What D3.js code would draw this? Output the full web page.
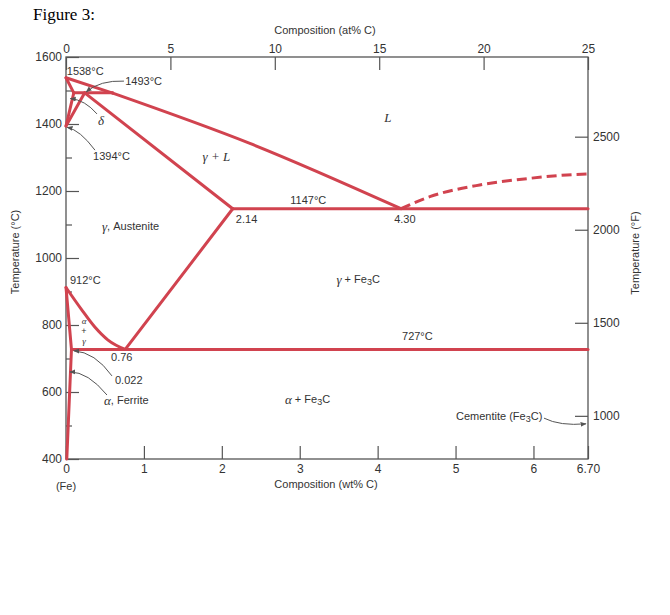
<!DOCTYPE html>
<html><head><meta charset="utf-8">
<script src="https://cdn.jsdelivr.net/npm/d3@7"></script>
<style>body{margin:0;background:#fff}</style>
</head><body><svg id="c" width="670" height="615"></svg>
<script>
// ---------- data ----------
const tempTicksC = [400, 600, 800, 1000, 1200, 1400, 1600];
const tempMinorC = [500, 700, 900, 1100, 1300, 1500];
const wtTicks = [0, 1, 2, 3, 4, 5, 6, 6.70];
const atTicks = [0, 5, 10, 15, 20, 25];
const tempTicksF = [1000, 1500, 2000, 2500];

// phase boundaries as [wt% C, °C]
const liquidusTop = [[0, 1538], [0.6, 1492]];
const liquidus = [[0.6, 1492], [2.36, 1342], [4.30, 1147]];
const liquidusHyper = [[4.30, 1147], [4.67, 1183], [5.31, 1218], [5.96, 1238], [6.43, 1248], [6.70, 1251]];
const deltaSolidus = [[0, 1538], [0.1, 1493]];
const peritectic = [[0.1, 1493], [0.6, 1493]];
const deltaGammaLeft = [[0.1, 1493], [0, 1394]];
const deltaGammaRight = [[0.24, 1493], [0, 1394]];
const gammaSolidus = [[0.24, 1493], [2.14, 1147]];
const eutectic = [[2.14, 1147], [6.70, 1147]];
const acm = [[2.14, 1147], [0.76, 727]];
const a3 = [[0, 912], [0.2, 846], [0.37, 794], [0.54, 755], [0.76, 727]];
const alphaBoundary = [[0, 912], [0.07, 727]];
const solvus = [[0.07, 727], [0.01, 400]];
const eutectoid = [[0.07, 727], [6.70, 727]];

// ---------- setup ----------
const svg = d3.select("#c");
const RED = "#d1434f", AX = "#555", TXT = "#333";
const SANS = "'Liberation Sans', Arial, Helvetica, sans-serif";
const SERIF = "'Liberation Serif', 'Times New Roman', serif";

const x = d3.scaleLinear().domain([0, 6.70]).range([66, 588]);
const y = d3.scaleLinear().domain([400, 1600]).range([459, 57]);
const xAt = d3.scaleLinear().domain([0, 25]).range([66, 588]);
const yF = d3.scaleLinear().domain([752, 2912]).range([462, 60]);
const fmt = d3.format("d");

svg.append("defs").append("marker")
  .attr("id", "ah").attr("viewBox", "0 0 10 10").attr("refX", 9).attr("refY", 5)
  .attr("markerWidth", 6).attr("markerHeight", 6).attr("markerUnits", "userSpaceOnUse")
  .attr("orient", "auto")
  .append("path").attr("d", "M0,1 L10,5 L0,9 Z").attr("fill", AX);

// title
svg.append("text").attr("x", 33).attr("y", 20).attr("font-family", SERIF)
  .attr("font-size", 17).attr("fill", "#000").text("Figure 3:");

// frame
svg.append("rect").attr("x", x(0)).attr("y", y(1600))
  .attr("width", x(6.70) - x(0)).attr("height", y(400) - y(1600))
  .attr("fill", "none").attr("stroke", AX).attr("stroke-width", 1.3);

function styleAxis(g) {
  g.select(".domain").remove();
  g.selectAll(".tick line").attr("stroke", AX).attr("stroke-width", 1.2);
  g.selectAll(".tick text").attr("fill", TXT).attr("font-family", SANS).attr("font-size", 12);
}

svg.append("g").attr("transform", `translate(${x(0)},0)`)
  .call(d3.axisLeft(y).tickValues(tempTicksC).tickSizeInner(-13).tickSizeOuter(0).tickPadding(4).tickFormat(fmt))
  .call(styleAxis);
svg.append("g").attr("transform", `translate(${x(0)},0)`)
  .call(d3.axisLeft(y).tickValues(tempMinorC).tickSizeInner(-6).tickSizeOuter(0).tickFormat(""))
  .call(styleAxis);
svg.append("g").attr("transform", `translate(0,${y(400)})`)
  .call(d3.axisBottom(x).tickValues(wtTicks).tickSizeInner(-13).tickSizeOuter(0).tickPadding(5)
    .tickFormat(d => d === 6.70 ? "6.70" : fmt(d)))
  .call(styleAxis);
svg.append("g").attr("transform", `translate(0,${y(1600)})`)
  .call(d3.axisTop(xAt).tickValues(atTicks).tickSizeInner(-13).tickSizeOuter(0).tickPadding(4).tickFormat(fmt))
  .call(styleAxis);
svg.append("g").attr("transform", `translate(${x(6.70)},0)`)
  .call(d3.axisRight(yF).tickValues(tempTicksF).tickSizeInner(-13).tickSizeOuter(0).tickPadding(5).tickFormat(fmt))
  .call(styleAxis);

// axis titles
function label(px, py, txt, opts = {}) {
  const t = svg.append("text").attr("x", px).attr("y", py)
    .attr("font-family", SANS).attr("font-size", opts.size || 11).attr("fill", TXT)
    .attr("text-anchor", opts.anchor || "start").attr("dominant-baseline", "central");
  if (opts.rotate) t.attr("transform", `rotate(${opts.rotate},${px},${py})`);
  t.text(txt);
  return t;
}
label(325, 30, "Composition (at% C)", {anchor: "middle"});
label(326, 484, "Composition (wt% C)", {anchor: "middle"});
label(x(0), 486, "(Fe)", {anchor: "middle"});
label(15, 252, "Temperature (°C)", {anchor: "middle", rotate: -90});
label(635, 253, "Temperature (°F)", {anchor: "middle", rotate: -90});

// phase boundaries
const line = d3.line().x(d => x(d[0])).y(d => y(d[1]));
const smooth = d3.line().x(d => x(d[0])).y(d => y(d[1])).curve(d3.curveMonotoneX);
const solids = [liquidusTop, deltaSolidus, peritectic, deltaGammaLeft, deltaGammaRight, gammaSolidus,
  eutectic, acm, alphaBoundary, solvus, eutectoid];
const pg = svg.append("g").attr("fill", "none").attr("stroke", RED)
  .attr("stroke-width", 3).attr("stroke-linejoin", "round").attr("stroke-linecap", "round");
solids.forEach(s => pg.append("path").attr("d", line(s)));
pg.append("path").attr("d", smooth(liquidus));
pg.append("path").attr("d", smooth(a3));
pg.append("path").attr("d", smooth(liquidusHyper)).attr("stroke-dasharray", "10,5")
  .attr("stroke-linecap", "butt");

// annotations (data coordinates)
function ann(wt, T, parts, anchor = "start", gsize = 13) {
  const t = svg.append("text").attr("x", x(wt)).attr("y", y(T))
    .attr("font-family", SANS).attr("font-size", 11).attr("fill", TXT)
    .attr("text-anchor", anchor).attr("dominant-baseline", "central");
  parts.forEach(p => {
    const s = t.append("tspan").text(p.t);
    if (p.greek) s.attr("font-family", SERIF).attr("font-style", "italic").attr("font-size", gsize);
    if (p.sub) s.attr("baseline-shift", "-30%").attr("font-size", 9);
  });
  return t;
}
const G = s => ({t: s, greek: true});
const S = s => ({t: s});
ann(0.01, 1558, [S("1538°C")]);
ann(0.76, 1528, [S("1493°C")]);
ann(0.449, 1412, [G("δ")], "middle");
ann(0.347, 1304, [S("1394°C")]);
ann(1.93, 1304, [G("γ + L")], "middle");
ann(4.13, 1421, [G("L")], "middle");
ann(3.11, 1173, [S("1147°C")], "middle");
ann(2.18, 1116, [S("2.14")]);
ann(4.35, 1116, [S("4.30")], "middle");
ann(0.462, 1095, [G("γ"), S(", Austenite")]);
ann(0.051, 934, [S("912°C")]);
ann(3.75, 937, [G("γ"), S(" + Fe"), {t: "3", sub: true}, S("C")], "middle");
ann(4.51, 767, [S("727°C")], "middle");
ann(0.231, 811, [G("α")], "middle", 9);
ann(0.231, 781, [S("+")], "middle").attr("font-size", 9);
ann(0.231, 752, [G("γ")], "middle", 9);
ann(0.578, 704, [S("0.76")]);
ann(0.629, 636, [S("0.022")]);
ann(0.488, 576, [G("α"), S(", Ferrite")]);
ann(3.1, 579, [G("α"), S(" + Fe"), {t: "3", sub: true}, S("C")], "middle");
ann(5.006, 528, [S("Cementite (Fe"), {t: "3", sub: true}, S("C)")]);

// leader arrows: [start, control, end] in data coords
const leaders = [
  [[0.744, 1528], [0.436, 1531], [0.26, 1496]],
  [[0.398, 1430], [0.244, 1472], [0.055, 1476]],
  [[0.372, 1322], [0.18, 1382], [0.015, 1390]],
  [[0.59, 648], [0.372, 719], [0.1, 723]],
  [[0.526, 591], [0.282, 660], [0.05, 660]],
  [[6.135, 522], [6.34, 498], [6.674, 505]]
];
leaders.forEach(([a, c, b]) => {
  const p = d3.path();
  p.moveTo(x(a[0]), y(a[1]));
  p.quadraticCurveTo(x(c[0]), y(c[1]), x(b[0]), y(b[1]));
  svg.append("path").attr("d", p.toString()).attr("fill", "none")
    .attr("stroke", AX).attr("stroke-width", 1).attr("marker-end", "url(#ah)");
});
</script></body></html>
